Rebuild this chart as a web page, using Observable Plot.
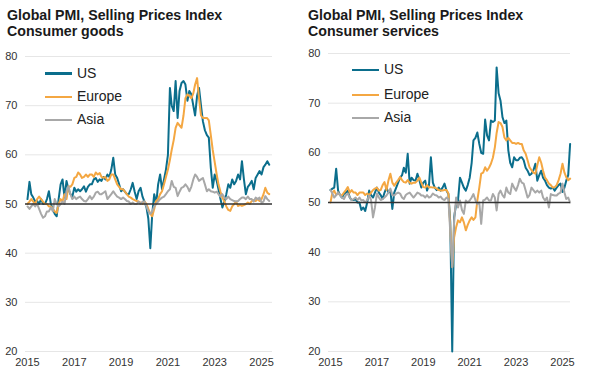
<!DOCTYPE html>
<html><head><meta charset="utf-8">
<script src="https://cdn.jsdelivr.net/npm/d3@7"></script>
<script src="https://cdn.jsdelivr.net/npm/@observablehq/plot@0.6"></script>
<style>
body{margin:0;background:#fff;font-family:"Liberation Sans",Arial,sans-serif;}
#wrap{position:relative;width:595px;height:385px;overflow:hidden;background:#fff;}
.panel{position:absolute;top:0;height:385px;}
.title{position:absolute;top:7px;font-weight:bold;font-size:14.2px;line-height:16px;color:#1a1a1a;white-space:nowrap;}
.plot{position:absolute;top:40px;left:0;}
.leg{position:absolute;font-size:14px;color:#222;height:16px;line-height:16px;white-space:nowrap;}
.leg .sw{position:absolute;left:0;top:7.5px;width:27px;height:2.5px;}
.leg .lb{position:absolute;left:32px;top:0;}
</style></head>
<body><div id="wrap"></div>
<script>
// ---- Data (monthly, Jan 2015 – May 2025) ----
const seriesNames = ["US", "Europe", "Asia"];
const seriesColors = ["#0b6e8c", "#f4a742", "#a8a8a8"];
const yTicks = [20, 30, 40, 50, 60, 70, 80];
const yearTicks = [2015, 2017, 2019, 2021, 2023, 2025];
const panelTitles = [
  ["Global PMI, Selling Prices Index", "Consumer goods"],
  ["Global PMI, Selling Prices Index", "Consumer services"]
];

const goodsUS = [
  51,54.5,52,51.3,50.5,50.6,50,51,50,50,51,52.6,
  50,49,48,47.5,51,54,55,51.3,54.7,53,52,51.5,
  53.3,52.5,53,52.6,53,53.6,52.5,53.5,54,54,55,55.3,
  54.5,55,54.7,55.5,55,56,55.5,57,59.4,56,55.3,54,
  52.6,53,52.5,52,52,53,54.3,52.5,51,52.6,53.3,51.5,
  50.5,49.3,47,41,48,52,50,54,56,53,55,57,
  60,73.6,70,68.9,75,67.5,73,74.6,75,74.3,71,73,
  72.3,70,68,72,73.6,70,66.8,65,64,63.5,57.4,53.3,
  56,54.7,53,51,49.3,50.5,52,54,53.3,55,54,54.7,
  56,55,58.7,55,52,53.5,54,54.7,53,55.3,56,56.7,
  56,57.5,58,58.7,58
];
const goodsEurope = [
  50,50.5,51,50.5,50,51,51.5,51,50.5,50,50,49.5,
  49.5,49,48.5,48.2,50,51,50.5,52,51,53.6,53.5,54,
  55.3,55.5,56.4,56,55.3,55.5,56,55.5,56,56,55.5,56.4,
  56,56.3,55.5,55.3,55.5,54.7,55,56,56,55,54,53.5,
  53,53,52.5,52,51.5,51.3,51,50.8,50.6,50.5,50.3,50,
  50.5,50,49,48,47.5,49,50.6,51,52,52.6,54,55.5,
  57,59,61,63,65.5,66.5,66,65.5,68,71.5,72.3,72,
  71.5,72.5,74.3,75.6,71.5,68,67.5,67.5,67.5,67,64,61,
  58.5,56,54,52.5,51.3,50.5,49.5,48.8,48.6,49.5,50,50.5,
  49.6,49.8,49.6,49.8,50,50.3,50,50.6,50.8,50.6,51,50.6,
  51,52,53.3,52.3,52
];
const goodsAsia = [
  49.5,49,49.5,50,49.5,50,49,48,47.2,47.5,48.5,48.5,
  49.3,48.5,51,50,49.5,50,50.5,50,52.6,53.6,52,51,
  51.5,51,51.3,51.5,51,50.6,50.5,51,51.6,51,51.5,52.3,
  52.5,52,52,52.3,52.6,51,51.5,52,52.6,52,51.5,51.3,
  51,51.3,51,50.6,50.5,50,50.3,50,50,50.5,50,50.5,
  50.5,49.5,48.5,48,48.5,49.5,50,50.5,51,51.3,51.5,52,
  52.6,53,54.7,53.5,53.3,51.6,52.5,53.3,53.5,54,53.5,52.6,
  53.5,55,56,55.5,54.7,55,55.3,54,52.6,53,52.6,52.5,
  52.3,52.5,52,51.5,52,51.3,51,51.5,51,50.8,50.6,50.5,
  50.6,51,51.3,51.3,51,51.5,51,51,50.5,51.3,51,51.3,
  50.3,50.5,51.6,51,50.6
];
const servicesUS = [
  52.5,52.8,53,56.8,52.4,51.5,51,51.7,52,52.4,51,50.5,
  50.5,50.7,50,50,48.5,49,48.3,50,52.4,51.5,51,52,
  53,52,51.5,50.7,52,53,52,52.4,48.7,52,53,54,
  55,55.5,57,56,59.8,53.8,55,54.5,54.4,55.8,54.5,53,
  54,54.4,52.4,53.5,59.1,54,53,52.5,53,52.4,53,53.8,
  52.4,51.7,46,20,47,49.7,50.4,55,54,53,52.4,53.5,
  55,58,62.5,63,64.1,61.8,60,59.8,66.7,63.5,62.5,66.5,
  66.2,66.5,77.2,72,70.5,67.2,66,66.5,60.5,58,57.1,59.1,
  58.5,58.5,59,59.1,58.5,57,56.4,55.5,55.8,56.5,57.8,54.4,
  55.5,56.4,55,54.4,53.5,53,52.8,53,52.4,53,53.5,53.8,
  52.1,53,54.4,55.5,61.8
];
const servicesEurope = [
  50,52,52.4,51.5,52,51.5,51.4,52,52.5,53.1,52,52.5,
  52,52,51.5,52,52,52,51.5,51.8,51.5,52,52.5,52.8,
  53,52.4,52.5,53.5,54.1,52.5,54.4,55.8,54,53.4,54,54.5,
  55.1,54.5,54.1,54,54.5,54,53.8,54,54,54.4,55,54,
  53.1,53,53.5,53,53.1,53,53,52.8,52.5,52.4,52.4,52.5,
  52.5,51.8,45,37,43,45,46.4,46,47,46,44.4,45.5,
  46.4,47,46.5,47,50.4,53,55.8,56,57.1,56.4,57,57.8,
  59,61.1,64,66.2,66,65.2,63.1,62.5,63,62.5,62,62,
  61.8,62,61.8,61.8,60.5,59.8,58.5,57.1,56.5,56,55.8,57.5,
  59.1,58,56.4,55,54.5,53.8,53.5,53,53.1,53.5,54.5,55.8,
  57.8,56,55.1,54.5,54.8
];
const servicesAsia = [
  52.5,51.8,51,51.5,52,51.5,51,50.7,51.5,51.8,51,50.5,
  50.7,51,50.5,51,50.4,50.5,50,50.5,51.4,50.5,47,49,
  51.8,51,50.5,50.7,51,51.4,52,52.8,51.5,51.4,51.8,52,
  51.8,51,50.7,51.5,51.8,52,51.5,51,51.5,52,51.8,51.4,
  51.4,51,51.5,51,51.2,51.8,51.5,51.4,51,51.2,50.7,50.5,
  51,50.7,44,37,46.4,51,49,50.4,48.5,47.7,50.4,50,
  50.4,51,51.7,50.5,49.7,50,45.7,50.4,50.6,51,50.4,50.4,
  51.7,51,48.4,51.7,52.4,51.5,51,53,52,51.7,53.8,53,
  52.4,53.5,54.8,54,53.8,52.4,51,51.5,53,52.5,52,52.4,
  52,52.4,51,50.4,51,49,51.7,51.5,51.4,51.4,51.8,52,
  53.8,52,50.7,51,50
];

// ---- Build ----
const start = new Date(Date.UTC(2015, 0, 1));
const toRows = arr => arr.map((v, i) => ({date: d3.utcMonth.offset(start, i), value: v}));
const yearDates = yearTicks.map(y => new Date(Date.UTC(y, 0, 1)));

const panels = [
  {left: 0, width: 297, mL: 25, mR: 25, mT: 16, titleX: 7,
   xEnd: new Date(Date.UTC(2025, 5, 21)), series: [goodsUS, goodsEurope, goodsAsia],
   legX: 45, legY: [64.5, 88, 111.3]},
  {left: 297, width: 298, mL: 31, mR: 25, mT: 13, titleX: 11,
   xEnd: new Date(Date.UTC(2025, 4, 7)), series: [servicesUS, servicesEurope, servicesAsia],
   legX: 55, legY: [61.3, 86.3, 109.3]}
];

const wrap = document.getElementById("wrap");
panels.forEach((p, pi) => {
  const div = document.createElement("div");
  div.className = "panel";
  div.style.left = p.left + "px";
  div.style.width = p.width + "px";
  const t = document.createElement("div");
  t.className = "title";
  t.style.left = p.titleX + "px";
  t.innerHTML = panelTitles[pi][0] + "<br>" + panelTitles[pi][1];
  div.appendChild(t);

  const lines = [0, 1, 2].map(k => Plot.line(toRows(p.series[k]), {
    x: "date", y: "value", stroke: seriesColors[k], strokeWidth: 2, strokeLinejoin: "round"
  }));

  const chart = Plot.plot({
    width: p.width, height: 340,
    marginLeft: p.mL, marginRight: p.mR, marginTop: p.mT, marginBottom: 29,
    style: {fontFamily: "'Liberation Sans', Arial, sans-serif", fontSize: "11px", color: "#333", background: "transparent"},
    x: {type: "utc", domain: [new Date(Date.UTC(2014, 11, 1)), p.xEnd], ticks: yearDates,
        tickFormat: d3.utcFormat("%Y"), tickSize: 0, tickPadding: 7, label: null},
    y: {domain: [20, 80], ticks: yTicks, tickSize: 0, tickPadding: 8, label: null},
    marks: [
      Plot.ruleY(yTicks.filter(d => d !== 50), {stroke: "#e6e6e6", strokeWidth: 1}),
      ...lines,
      Plot.ruleY([50], {stroke: "#333", strokeWidth: 1.3})
    ]
  });
  chart.classList.add("plot");
  div.appendChild(chart);

  seriesNames.forEach((name, k) => {
    const l = document.createElement("div");
    l.className = "leg";
    l.style.left = p.legX + "px";
    l.style.top = p.legY[k] + "px";
    l.innerHTML = `<span class="sw" style="background:${seriesColors[k]}"></span><span class="lb">${name}</span>`;
    div.appendChild(l);
  });
  wrap.appendChild(div);
});
</script></body></html>
